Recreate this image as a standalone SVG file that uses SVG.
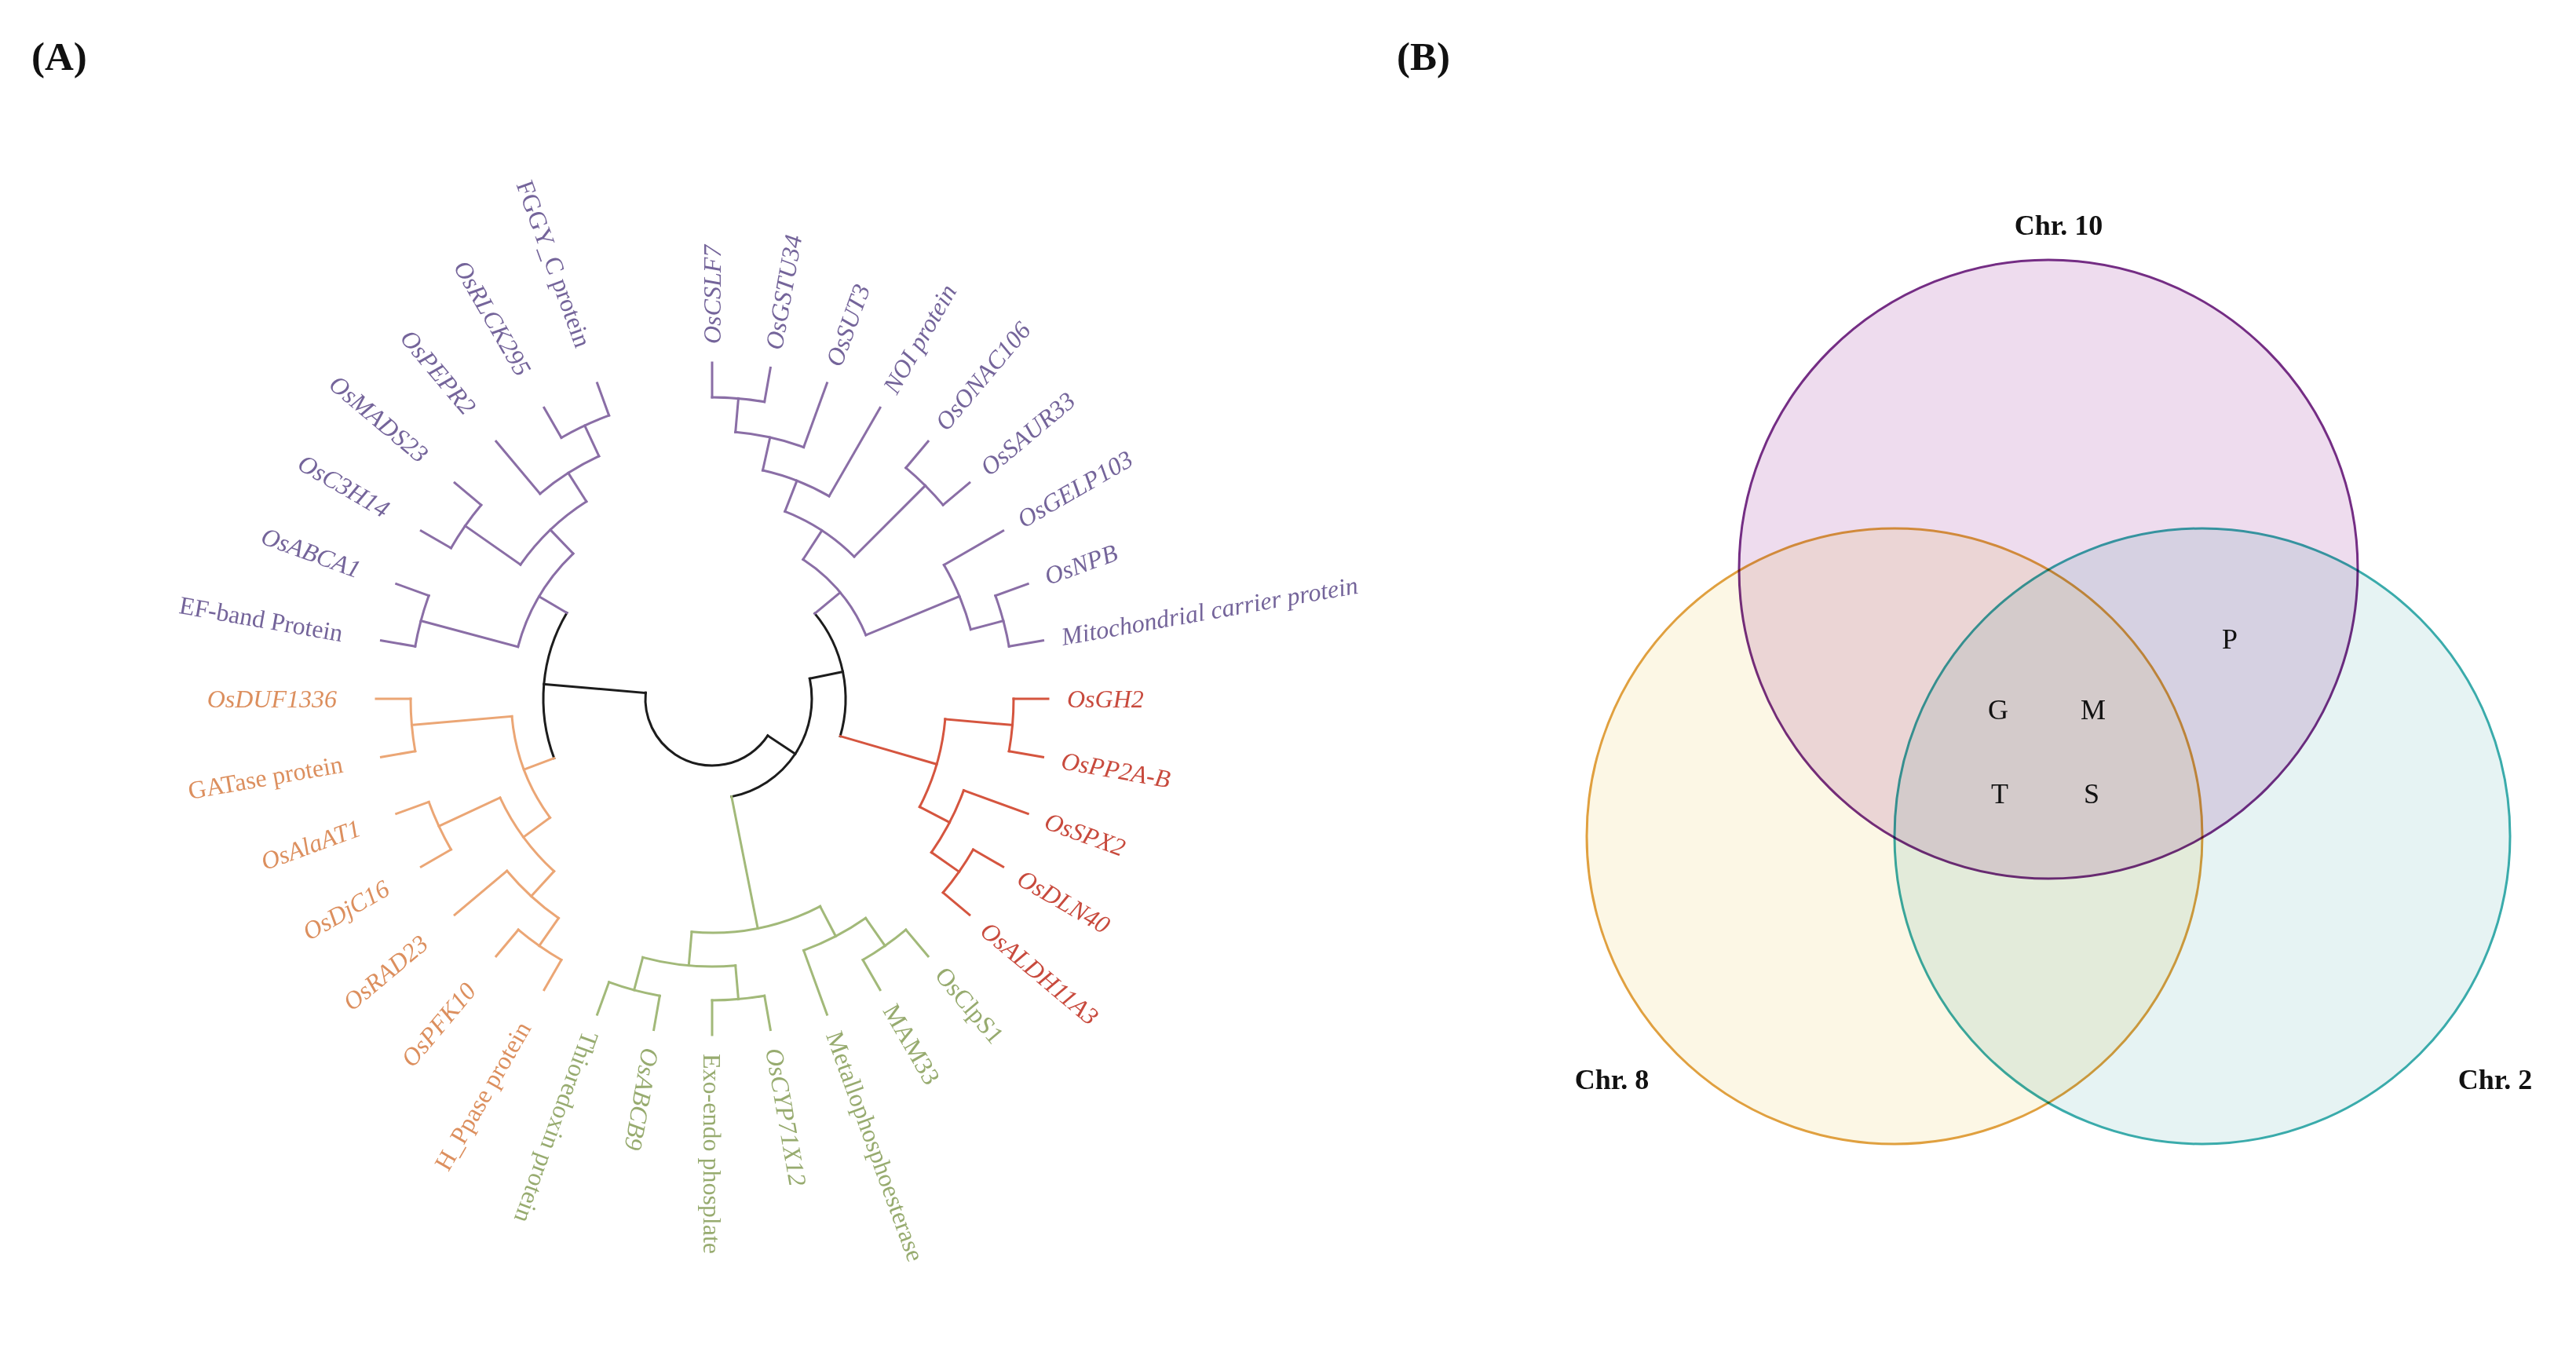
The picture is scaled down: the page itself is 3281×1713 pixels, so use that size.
<svg xmlns="http://www.w3.org/2000/svg" width="3281" height="1713" viewBox="0 0 3281 1713">
<style>
.t{font-family:"Liberation Serif","Times New Roman",serif;font-size:32px}
.i{font-style:italic}
.hd{font-family:"Liberation Serif","Times New Roman",serif;font-weight:bold;font-size:51px;fill:#111}
.vl{font-family:"Liberation Serif","Times New Roman",serif;font-size:36px;fill:#111;text-anchor:middle}
.vb{font-weight:bold}
.tp{fill:#74649a}.tr{fill:#c84a3d}.tg{fill:#97ab6f}.to{fill:#dc8f5e}
.k{stroke:#1c1c1c}.cp{stroke:#8a6ea6}.cr{stroke:#d5553f}.cg{stroke:#a2b979}.co{stroke:#eba675}
.mb{mix-blend-mode:multiply}
</style>
<rect width="3281" height="1713" fill="#ffffff"/>
<text class="hd" x="40" y="89">(A)</text>
<text class="hd" x="1779" y="89">(B)</text>

<g id="tree" transform="translate(907,890)">
<g id="connectors" fill="none" stroke-width="3" stroke-linecap="square">
<g id="c-root" class="k">
<circle r="85" transform="rotate(33.5)" stroke-dasharray="224.75 3000"/>
<line x1="85" x2="215" transform="rotate(185)"/>
<circle r="215" transform="rotate(159.4)" stroke-dasharray="192.13 3000"/>
<line x1="85" x2="127" transform="rotate(33.5)"/>
<circle r="127" transform="rotate(-11.7)" stroke-dasharray="200.49 3000"/>
<line x1="127" x2="170" transform="rotate(-11.7)"/>
<circle r="170" transform="rotate(-39.7)" stroke-dasharray="166.01 3000"/>
</g>
<g id="c-purple-left" class="cp">
<line x1="215" x2="256" transform="rotate(210.6)"/>
<circle r="256" transform="rotate(195)" stroke-dasharray="139.63 3000"/>
<line x1="256" x2="384" transform="rotate(195)"/>
<circle r="384" transform="rotate(190)" stroke-dasharray="67.02 3000"/>
<line x1="384" x2="428" transform="rotate(190)"/>
<line x1="384" x2="428" transform="rotate(200)"/>
<line x1="256" x2="298" transform="rotate(226.25)"/>
<circle r="298" transform="rotate(215)" stroke-dasharray="117.02 3000"/>
<line x1="298" x2="384" transform="rotate(215)"/>
<circle r="384" transform="rotate(210)" stroke-dasharray="67.02 3000"/>
<line x1="384" x2="428" transform="rotate(210)"/>
<line x1="384" x2="428" transform="rotate(220)"/>
<line x1="298" x2="341" transform="rotate(237.5)"/>
<circle r="341" transform="rotate(230)" stroke-dasharray="89.27 3000"/>
<line x1="341" x2="428" transform="rotate(230)"/>
<line x1="341" x2="384" transform="rotate(245)"/>
<circle r="384" transform="rotate(240)" stroke-dasharray="67.02 3000"/>
<line x1="384" x2="428" transform="rotate(240)"/>
<line x1="384" x2="428" transform="rotate(250)"/>
</g>
<g id="c-purple-right" class="cp">
<line x1="170" x2="212" transform="rotate(320.3)"/>
<circle r="212" transform="rotate(303.125)" stroke-dasharray="127.19 3000"/>
<line x1="212" x2="256" transform="rotate(303.125)"/>
<circle r="256" transform="rotate(291.25)" stroke-dasharray="106.12 3000"/>
<line x1="256" x2="298" transform="rotate(291.25)"/>
<circle r="298" transform="rotate(282.5)" stroke-dasharray="91.02 3000"/>
<line x1="298" x2="428" transform="rotate(300)"/>
<line x1="298" x2="341" transform="rotate(282.5)"/>
<circle r="341" transform="rotate(275)" stroke-dasharray="89.27 3000"/>
<line x1="341" x2="428" transform="rotate(290)"/>
<line x1="341" x2="384" transform="rotate(275)"/>
<circle r="384" transform="rotate(270)" stroke-dasharray="67.02 3000"/>
<line x1="384" x2="428" transform="rotate(270)"/>
<line x1="384" x2="428" transform="rotate(280)"/>
<line x1="256" x2="384" transform="rotate(315)"/>
<circle r="384" transform="rotate(310)" stroke-dasharray="67.02 3000"/>
<line x1="384" x2="428" transform="rotate(310)"/>
<line x1="384" x2="428" transform="rotate(320)"/>
<line x1="212" x2="341" transform="rotate(337.5)"/>
<circle r="341" transform="rotate(330)" stroke-dasharray="89.27 3000"/>
<line x1="341" x2="428" transform="rotate(330)"/>
<line x1="341" x2="384" transform="rotate(345)"/>
<circle r="384" transform="rotate(340)" stroke-dasharray="67.02 3000"/>
<line x1="384" x2="428" transform="rotate(340)"/>
<line x1="384" x2="428" transform="rotate(350)"/>
</g>
<g id="c-red" class="cr">
<line x1="170" x2="298" transform="rotate(16.25)"/>
<circle r="298" transform="rotate(5)" stroke-dasharray="117.02 3000"/>
<line x1="298" x2="384" transform="rotate(5)"/>
<circle r="384" transform="rotate(0)" stroke-dasharray="67.02 3000"/>
<line x1="384" x2="428" transform="rotate(0)"/>
<line x1="384" x2="428" transform="rotate(10)"/>
<line x1="298" x2="341" transform="rotate(27.5)"/>
<circle r="341" transform="rotate(20)" stroke-dasharray="89.27 3000"/>
<line x1="341" x2="428" transform="rotate(20)"/>
<line x1="341" x2="384" transform="rotate(35)"/>
<circle r="384" transform="rotate(30)" stroke-dasharray="67.02 3000"/>
<line x1="384" x2="428" transform="rotate(30)"/>
<line x1="384" x2="428" transform="rotate(40)"/>
</g>
<g id="c-green" class="cg">
<line x1="127" x2="298" transform="rotate(78.75)"/>
<circle r="298" transform="rotate(62.5)" stroke-dasharray="169.04 3000"/>
<line x1="298" x2="341" transform="rotate(62.5)"/>
<circle r="341" transform="rotate(55)" stroke-dasharray="89.27 3000"/>
<line x1="341" x2="428" transform="rotate(70)"/>
<line x1="341" x2="384" transform="rotate(55)"/>
<circle r="384" transform="rotate(50)" stroke-dasharray="67.02 3000"/>
<line x1="384" x2="428" transform="rotate(50)"/>
<line x1="384" x2="428" transform="rotate(60)"/>
<line x1="298" x2="341" transform="rotate(95)"/>
<circle r="341" transform="rotate(85)" stroke-dasharray="119.03 3000"/>
<line x1="341" x2="384" transform="rotate(85)"/>
<circle r="384" transform="rotate(80)" stroke-dasharray="67.02 3000"/>
<line x1="384" x2="428" transform="rotate(80)"/>
<line x1="384" x2="428" transform="rotate(90)"/>
<line x1="341" x2="384" transform="rotate(105)"/>
<circle r="384" transform="rotate(100)" stroke-dasharray="67.02 3000"/>
<line x1="384" x2="428" transform="rotate(100)"/>
<line x1="384" x2="428" transform="rotate(110)"/>
</g>
<g id="c-orange" class="co">
<line x1="215" x2="256" transform="rotate(159.4)"/>
<circle r="256" transform="rotate(143.75)" stroke-dasharray="139.63 3000"/>
<line x1="256" x2="384" transform="rotate(175)"/>
<circle r="384" transform="rotate(170)" stroke-dasharray="67.02 3000"/>
<line x1="384" x2="428" transform="rotate(170)"/>
<line x1="384" x2="428" transform="rotate(180)"/>
<line x1="256" x2="298" transform="rotate(143.75)"/>
<circle r="298" transform="rotate(132.5)" stroke-dasharray="117.02 3000"/>
<line x1="298" x2="384" transform="rotate(155)"/>
<circle r="384" transform="rotate(150)" stroke-dasharray="67.02 3000"/>
<line x1="384" x2="428" transform="rotate(150)"/>
<line x1="384" x2="428" transform="rotate(160)"/>
<line x1="298" x2="341" transform="rotate(132.5)"/>
<circle r="341" transform="rotate(125)" stroke-dasharray="89.27 3000"/>
<line x1="341" x2="428" transform="rotate(140)"/>
<line x1="341" x2="384" transform="rotate(125)"/>
<circle r="384" transform="rotate(120)" stroke-dasharray="67.02 3000"/>
<line x1="384" x2="428" transform="rotate(120)"/>
<line x1="384" x2="428" transform="rotate(130)"/>
</g>
</g>

<g id="labels" class="t">
<g id="leaf-EF-band" class="tp"><text transform="rotate(190) translate(478 0) rotate(180)" text-anchor="end" dy="0.33em">EF-band Protein</text></g>
<g id="leaf-OsABCA1" class="tp i"><text transform="rotate(200) translate(478 0) rotate(180)" text-anchor="end" dy="0.33em">OsABCA1</text></g>
<g id="leaf-OsC3H14" class="tp i"><text transform="rotate(210) translate(478 0) rotate(180)" text-anchor="end" dy="0.33em">OsC3H14</text></g>
<g id="leaf-OsMADS23" class="tp i"><text transform="rotate(220) translate(478 0) rotate(180)" text-anchor="end" dy="0.33em">OsMADS23</text></g>
<g id="leaf-OsPEPR2" class="tp i"><text transform="rotate(230) translate(478 0) rotate(180)" text-anchor="end" dy="0.33em">OsPEPR2</text></g>
<g id="leaf-OsRLCK295" class="tp i"><text transform="rotate(240) translate(478 0) rotate(180)" text-anchor="end" dy="0.33em">OsRLCK295</text></g>
<g id="leaf-FGGY" class="tp"><text transform="rotate(250) translate(478 0) rotate(180)" text-anchor="end" dy="0.33em">FGGY_C protein</text></g>

<g id="leaf-OsCSLF7" class="tp i"><text transform="rotate(270) translate(452 0)" dy="0.33em">OsCSLF7</text></g>
<g id="leaf-OsGSTU34" class="tp i"><text transform="rotate(280) translate(452 0)" dy="0.33em">OsGSTU34</text></g>
<g id="leaf-OsSUT3" class="tp i"><text transform="rotate(290) translate(452 0)" dy="0.33em">OsSUT3</text></g>
<g id="leaf-NOI" class="tp i"><text transform="rotate(300) translate(452 0)" dy="0.33em">NOI protein</text></g>
<g id="leaf-OsONAC106" class="tp i"><text transform="rotate(310) translate(452 0)" dy="0.33em">OsONAC106</text></g>
<g id="leaf-OsSAUR33" class="tp i"><text transform="rotate(320) translate(452 0)" dy="0.33em">OsSAUR33</text></g>
<g id="leaf-OsGELP103" class="tp i"><text transform="rotate(330) translate(452 0)" dy="0.33em">OsGELP103</text></g>
<g id="leaf-OsNPB" class="tp i"><text transform="rotate(340) translate(452 0)" dy="0.33em">OsNPB</text></g>
<g id="leaf-Mito" class="tp i"><text transform="rotate(350) translate(452 0)" dy="0.33em">Mitochondrial carrier protein</text></g>

<g id="leaf-OsGH2" class="tr i"><text transform="rotate(0) translate(452 0)" dy="0.33em">OsGH2</text></g>
<g id="leaf-OsPP2A-B" class="tr i"><text transform="rotate(10) translate(452 0)" dy="0.33em">OsPP2A-B</text></g>
<g id="leaf-OsSPX2" class="tr i"><text transform="rotate(20) translate(452 0)" dy="0.33em">OsSPX2</text></g>
<g id="leaf-OsDLN40" class="tr i"><text transform="rotate(30) translate(452 0)" dy="0.33em">OsDLN40</text></g>
<g id="leaf-OsALDH11A3" class="tr i"><text transform="rotate(40) translate(452 0)" dy="0.33em">OsALDH11A3</text></g>

<g id="leaf-OsClpS1" class="tg"><text transform="rotate(50) translate(452 0)" dy="0.33em">OsClpS1</text></g>
<g id="leaf-MAM33" class="tg"><text transform="rotate(60) translate(452 0)" dy="0.33em">MAM33</text></g>
<g id="leaf-Metallo" class="tg"><text transform="rotate(70) translate(452 0)" dy="0.33em">Metallophosphoesterase</text></g>
<g id="leaf-OsCYP71X12" class="tg i"><text transform="rotate(80) translate(452 0)" dy="0.33em">OsCYP71X12</text></g>
<g id="leaf-Exo-endo" class="tg"><text transform="rotate(90) translate(452 0)" dy="0.33em">Exo-endo phosplate</text></g>
<g id="leaf-OsABCB9" class="tg i"><text transform="rotate(100) translate(452 0)" dy="0.33em">OsABCB9</text></g>
<g id="leaf-Thioredoxin" class="tg"><text transform="rotate(110) translate(452 0)" dy="0.33em">Thioredoxin protein</text></g>

<g id="leaf-H_Ppase" class="to"><text transform="rotate(120) translate(478 0) rotate(180)" text-anchor="end" dy="0.33em">H_Ppase protein</text></g>
<g id="leaf-OsPFK10" class="to i"><text transform="rotate(130) translate(478 0) rotate(180)" text-anchor="end" dy="0.33em">OsPFK10</text></g>
<g id="leaf-OsRAD23" class="to i"><text transform="rotate(140) translate(478 0) rotate(180)" text-anchor="end" dy="0.33em">OsRAD23</text></g>
<g id="leaf-OsDjC16" class="to i"><text transform="rotate(150) translate(478 0) rotate(180)" text-anchor="end" dy="0.33em">OsDjC16</text></g>
<g id="leaf-OsAlaAT1" class="to i"><text transform="rotate(160) translate(478 0) rotate(180)" text-anchor="end" dy="0.33em">OsAlaAT1</text></g>
<g id="leaf-GATase" class="to"><text transform="rotate(170) translate(478 0) rotate(180)" text-anchor="end" dy="0.33em">GATase protein</text></g>
<g id="leaf-OsDUF1336" class="to i"><text transform="rotate(180) translate(478 0) rotate(180)" text-anchor="end" dy="0.33em">OsDUF1336</text></g>
</g>
</g>

<g id="venn" style="isolation:isolate">
<g id="set-chr10" class="mb"><circle cx="2609" cy="725" r="394" fill="#eedcee" stroke="#742d84" stroke-width="3"/></g>
<g id="set-chr8" class="mb"><circle cx="2413" cy="1065" r="392" fill="#fcf7e5" stroke="#e0a03f" stroke-width="3"/></g>
<g id="set-chr2" class="mb"><circle cx="2805" cy="1065" r="392" fill="#e6f3f3" stroke="#3aabab" stroke-width="3"/></g>
</g>
<g id="venn-labels">
<text class="vl vb" x="2622" y="299">Chr. 10</text>
<text class="vl vb" x="2053" y="1387">Chr. 8</text>
<text class="vl vb" x="3178" y="1387">Chr. 2</text>
<text class="vl" x="2840" y="826">P</text>
<text class="vl" x="2545" y="916">G</text>
<text class="vl" x="2666" y="916">M</text>
<text class="vl" x="2547" y="1023">T</text>
<text class="vl" x="2664" y="1023">S</text>
</g>
</svg>
